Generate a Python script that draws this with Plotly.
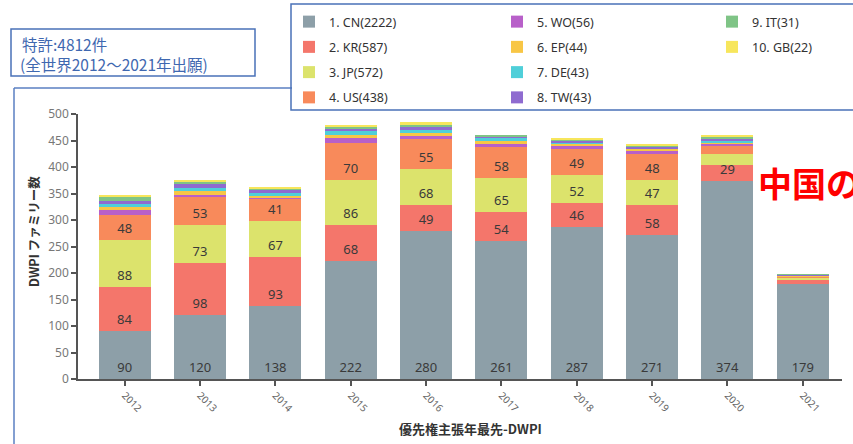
import plotly.graph_objects as go

years = ["2012", "2013", "2014", "2015", "2016", "2017", "2018", "2019", "2020", "2021"]

cn = [90, 120, 138, 222, 280, 261, 287, 271, 374, 179]
kr = [84, 98, 93, 68, 49, 54, 46, 58, 29, 8]
jp = [88, 73, 67, 86, 68, 65, 52, 47, 22, 4]
us = [48, 53, 41, 70, 55, 58, 49, 48, 14, 2]
wo = [8, 4, 4, 8, 7, 6, 7, 6, 5, 1]
ep = [6, 6, 3, 7, 6, 5, 3, 4, 3, 1]
de = [6, 7, 5, 6, 5, 6, 3, 1, 3, 1]
tw = [6, 6, 6, 6, 6, 2, 3, 3, 4, 1]
it = [8, 4, 2, 3, 4, 2, 2, 2, 3, 1]
gb = [3, 4, 2, 3, 4, 0, 2, 2, 2, 0]

series_names = ["1. CN(2222)", "2. KR(587)", "3. JP(572)", "4. US(438)", "5. WO(56)",
                "6. EP(44)", "7. DE(43)", "8. TW(43)", "9. IT(31)", "10. GB(22)"]
series_values = [cn, kr, jp, us, wo, ep, de, tw, it, gb]
colors = ["#8d9fa8", "#f4766b", "#dce36c", "#f88a5b", "#b860c9",
          "#f8c645", "#4fcfd9", "#8f6bd0", "#7fc486", "#f7e65c"]
legend_ids = ["legend"] * 4 + ["legend2"] * 4 + ["legend3"] * 2
labeled = [True, True, True, True] + [False] * 6

W, H = 853, 444
L, R, T, B = 78, 11, 114, 65
pw = W - L - R
ph = H - T - B


def px_x(x):
    return (x - L) / pw


def px_y(y):
    return (H - B - y) / ph


fig = go.Figure()
for i, (name, vals) in enumerate(zip(series_names, series_values)):
    if labeled[i]:
        txt = [str(v) if v >= 25 else "" for v in vals]
    else:
        txt = None
    fig.add_trace(go.Bar(
        x=years, y=vals, name=name,
        marker=dict(color=colors[i], line=dict(width=0)),
        text=txt, textposition="inside" if txt else "none",
        insidetextanchor="start", textangle=0, constraintext="none",
        textfont=dict(size=13, color="#3a3a3a", family="Noto Sans"),
        legend=legend_ids[i], legendgroup=name,
        hoverinfo="x+y+name",
    ))

legend_common = dict(
    orientation="v", xref="container", yref="container",
    xanchor="left", yanchor="top", bgcolor="rgba(0,0,0,0)",
    font=dict(size=12.5, color="#333333", family="Noto Sans"),
    tracegroupgap=6, traceorder="grouped",
)

fig.update_layout(
    width=W, height=H,
    margin=dict(l=L, r=R, t=T, b=B, autoexpand=False),
    paper_bgcolor="white", plot_bgcolor="white",
    barmode="stack", bargap=0.31,
    showlegend=True,
    legend=dict(x=289 / W, y=1 - 7 / H, **legend_common),
    legend2=dict(x=497 / W, y=1 - 7 / H, **legend_common),
    legend3=dict(x=712 / W, y=1 - 7 / H, **legend_common),
    font=dict(family="Noto Sans, Noto Sans CJK JP", color="#333333"),
    xaxis=dict(
        type="category", categoryorder="array", categoryarray=years,
        range=[-0.62, 9.52], showline=True, linecolor="#555555", linewidth=1.5,
        ticks="outside", ticklen=5, tickcolor="#555555", tickwidth=1.5,
        tickangle=45, tickfont=dict(size=10, color="#666666"),
        showgrid=False, automargin=False,
    ),
    yaxis=dict(
        range=[0, 500], dtick=50, showline=True, linecolor="#555555", linewidth=1.5,
        ticks="outside", ticklen=5, tickcolor="#555555", tickwidth=1.5,
        tickfont=dict(size=12, color="#777777"),
        showgrid=False, zeroline=False, automargin=False,
    ),
)

shapes = [
    # chart frame (left and top edges)
    dict(type="line", xref="paper", yref="paper", x0=px_x(14), x1=px_x(14),
         y0=px_y(88), y1=px_y(448), line=dict(color="#5a7fc2", width=1.5)),
    dict(type="line", xref="paper", yref="paper", x0=px_x(14), x1=px_x(292),
         y0=px_y(88), y1=px_y(88), line=dict(color="#5a7fc2", width=1.5)),
    # legend box
    dict(type="rect", xref="paper", yref="paper", x0=px_x(291), x1=px_x(856),
         y0=px_y(110), y1=px_y(4), line=dict(color="#4a72b8", width=1.5),
         fillcolor="rgba(0,0,0,0)"),
    # info box
    dict(type="rect", xref="paper", yref="paper", x0=px_x(11), x1=px_x(255),
         y0=px_y(76), y1=px_y(29), line=dict(color="#4a72b8", width=1.5),
         fillcolor="white"),
]
fig.update_layout(shapes=shapes)

# axis titles
fig.add_annotation(
    xref="paper", yref="paper", x=px_x(470), y=px_y(428),
    xanchor="center", yanchor="middle", showarrow=False,
    text="<b>優先権主張年最先-DWPI</b>",
    font=dict(size=13, color="#333333", family="Noto Sans CJK JP"),
)
fig.add_annotation(
    xref="paper", yref="paper", x=px_x(33), y=px_y(232),
    xanchor="center", yanchor="middle", showarrow=False, textangle=-90,
    text="<b>DWPI ファミリー数</b>",
    font=dict(size=12.5, color="#333333", family="Noto Sans CJK JP"),
)

# info box text
fig.add_annotation(
    xref="paper", yref="paper", x=px_x(20), y=px_y(44),
    xanchor="left", yanchor="middle", align="left", showarrow=False,
    text="特許:4812件",
    font=dict(size=15.5, color="#3f68b0", family="Noto Sans CJK JP"),
)
fig.add_annotation(
    xref="paper", yref="paper", x=px_x(18), y=px_y(64),
    xanchor="left", yanchor="middle", align="left", showarrow=False,
    text="(全世界2012～2021年出願)",
    font=dict(size=15.5, color="#3f68b0", family="Noto Sans CJK JP"),
)
fig.add_annotation(
    xref="paper", yref="paper", x=px_x(756), y=px_y(182),
    xanchor="left", yanchor="middle", showarrow=False,
    text="<b>中国の</b>",
    font=dict(size=34, color="#ff0000", family="Noto Sans CJK JP"),
)

fig.write_html("out.html")
